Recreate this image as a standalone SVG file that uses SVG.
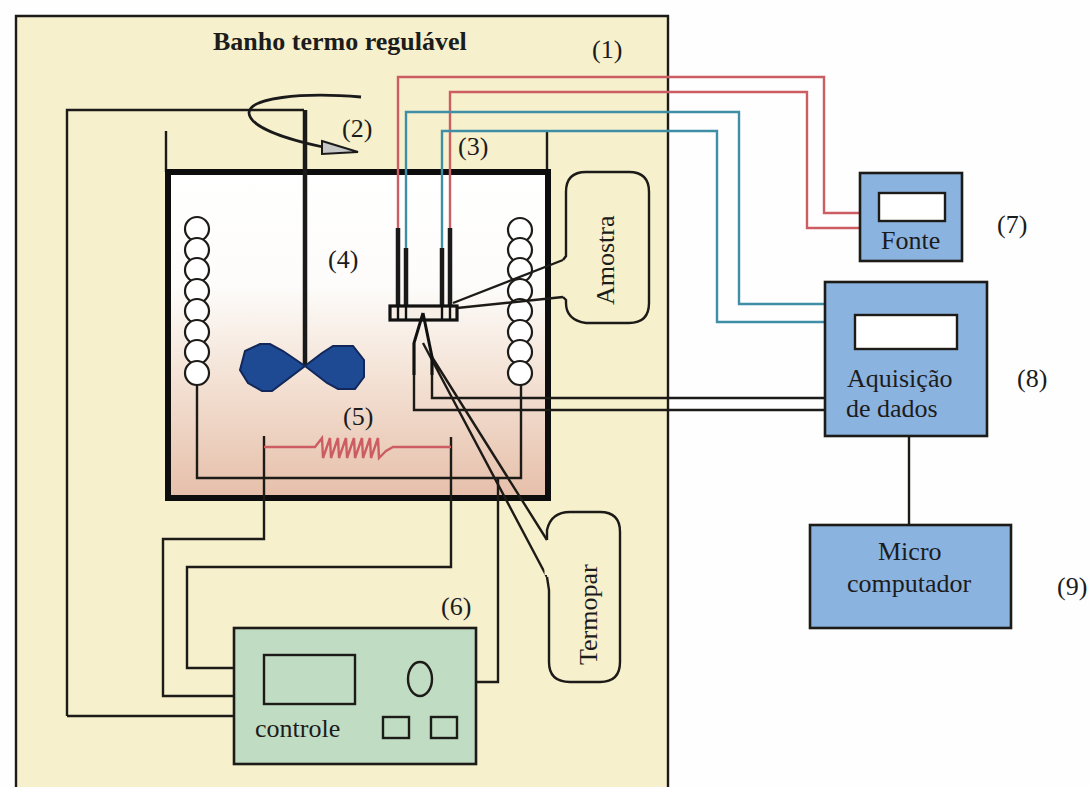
<svg xmlns="http://www.w3.org/2000/svg" width="1089" height="787" viewBox="0 0 1089 787">
<defs>
<linearGradient id="bath" x1="0" y1="0" x2="0" y2="1">
<stop offset="0" stop-color="#ffffff"/><stop offset="0.35" stop-color="#fdfcfa"/><stop offset="0.62" stop-color="#f4e3d6"/><stop offset="1" stop-color="#e6bfaa"/>
</linearGradient>
</defs>
<style>
text{font-family:"Liberation Serif","Times New Roman",serif;fill:#1c1c1c;font-size:26px}
.l{fill:none;stroke:#1d1b18;stroke-width:2.4}
.t{fill:none;stroke:#1a1a1a;stroke-width:4.5}
.b{fill:none;stroke:#0d0d0d;stroke-width:6}
.r{fill:none;stroke:#cc5d63;stroke-width:2.4}
.c{fill:none;stroke:#3f8ea6;stroke-width:2.4}
.w{fill:#fff;stroke:#1d1b18;stroke-width:2.2}
.o{fill:#f6f0cc;stroke:#1d1b18;stroke-width:2.4}
.box{fill:#8bb3e0;stroke:#1d1b18;stroke-width:2.6}
.p{fill:none;stroke:#1d1b18;stroke-width:2.4}
</style>
<rect width="1089" height="787" fill="#fefefe"/>
<g id="banho">
<rect x="16" y="16" width="652" height="771" fill="#f6f0cc"/>
<path class="l" d="M16 787V16H668V787"/>
<text x="213" y="50" font-weight="bold">Banho termo regulável</text>
<text x="592" y="58">(1)</text>
</g>
<g id="cuba">
<rect x="168" y="172" width="380" height="326" fill="url(#bath)"/>
<path class="l" d="M166 131V172M547 131V172"/>
<rect x="168" y="172" width="380" height="326" class="b"/>
<text x="458" y="155">(3)</text>
<text x="328" y="268">(4)</text>
<text x="343" y="425">(5)</text>
</g>
<g id="serpentina">
<circle class="w" cx="197" cy="229" r="12"/><circle class="w" cx="197" cy="250" r="12"/><circle class="w" cx="197" cy="270" r="12"/><circle class="w" cx="197" cy="291" r="12"/><circle class="w" cx="197" cy="311" r="12"/><circle class="w" cx="197" cy="332" r="12"/><circle class="w" cx="197" cy="352" r="12"/><circle class="w" cx="197" cy="373" r="12"/>
<circle class="w" cx="520" cy="230" r="12"/><circle class="w" cx="520" cy="250" r="12"/><circle class="w" cx="520" cy="270" r="12"/><circle class="w" cx="520" cy="291" r="12"/><circle class="w" cx="520" cy="311" r="12"/><circle class="w" cx="520" cy="332" r="12"/><circle class="w" cx="520" cy="352" r="12"/><circle class="w" cx="520" cy="373" r="12"/>
</g>
<g id="connectors">
<path class="r" d="M398 228V77H824V213H860"/>
<path class="r" d="M450 228V92H807V228H860"/>
<path class="c" d="M406 248V112H739V304H825"/>
<path class="c" d="M442 248V131H717V322H825"/>
<path class="l" d="M432 357V398H825M414 343V410H825"/>
<path class="l" d="M67 716V110H304M67 716H234"/>
<path class="l" d="M197 385V478H521V385"/>
<path class="l" d="M264 436V539H163V696H234"/>
<path class="l" d="M451 437V567H187V668H234"/>
<path class="l" d="M498 478V682H476"/>
<path class="l" d="M909 436V525"/>
<path class="l" d="M423 343L547 577M432 357L547 540M453 303L563 260M428 311L563 297"/>
</g>
<g id="agitador">
<path d="M305 110V366" class="t"/>
<path d="M361 97C300 92 249 98 249 113C250 128 290 140 323 147" fill="none" stroke="#1a1a1a" stroke-width="2.8"/>
<path d="M322 141L358 152L322 154Z" fill="#c5c8c6" stroke="#1a1a1a" stroke-width="2"/>
<text x="342" y="137">(2)</text>
<path d="M305 366L283 351L270 344H260L245 351L240 370L248 383L262 391H272ZL327 383L338 389H355L364 377V360L353 346H333L322 353Z" fill="#1e4a94" stroke="#12275a" stroke-width="2"/>
</g>
<g id="resistencia">
<path class="r" d="M264 447H315L322 438L323 458L330 438L331 458L338 438L339 458L346 438L347 458L354 438L355 458L362 438L363 458L370 438L371 458L378 438L379 458L386 451L393 447H451" stroke-width="3.4"/>
</g>
<g id="sensor">
<path d="M398 228V305M406 248V305M442 248V305M450 228V305" class="t"/>
<rect x="390" y="306" width="67" height="14" fill="#f7efe6" stroke="#111" stroke-width="3.2"/>
<path d="M398 306V320M406 306V320M442 306V320M450 306V320" stroke="#111" stroke-width="2.4"/>
<path d="M423 313L414 343V375M423 313L432 357V375" fill="none" stroke="#111" stroke-width="3"/>
</g>
<g id="amostra">
<path class="o" d="M563 260L566 256V192Q566 172 586 172H629Q649 172 649 192V303Q649 323 629 323H586Q566 320 566 303V300L563 297"/>
<path d="M563 262V295" stroke="#f6f0cc" stroke-width="4"/>
<text transform="translate(614 305) rotate(-90)">Amostra</text>
</g>
<g id="termopar">
<path class="o" d="M547 540V530Q551 512 570 512H600Q620 512 620 532V662Q620 682 600 682H570Q549 682 549 662V590L547 577"/>
<path d="M546 543V575" stroke="#f6f0cc" stroke-width="3"/>
<text transform="translate(597 665) rotate(-90)">Termopar</text>
</g>
<g id="controle">
<rect x="234" y="628" width="242" height="136" fill="#c0dcc3" stroke="#1d1b18" stroke-width="2.6"/>
<rect x="264" y="655" width="91" height="49" class="p"/>
<ellipse cx="420" cy="679" rx="12" ry="17" class="p"/>
<rect x="383" y="717" width="26" height="21" class="p"/>
<rect x="431" y="717" width="26" height="21" class="p"/>
<text x="255" y="737">controle</text>
<text x="441" y="615">(6)</text>
</g>
<g id="fonte">
<rect x="860" y="173" width="102" height="88" class="box"/>
<rect x="879" y="193" width="66" height="28" fill="#fff" stroke="#1d1b18" stroke-width="2.4"/>
<text x="881" y="249">Fonte</text>
<text x="997" y="233">(7)</text>
</g>
<g id="aquisicao">
<rect x="825" y="282" width="162" height="154" class="box"/>
<rect x="855" y="315" width="102" height="34" fill="#fff" stroke="#1d1b18" stroke-width="2.4"/>
<text x="847" y="387" font-size="28.6">Aquisição</text>
<text x="846" y="417" font-size="26.6">de dados</text>
<text x="1017" y="387">(8)</text>
</g>
<g id="computador">
<rect x="810" y="525" width="201" height="103" class="box"/>
<text x="878" y="560" font-size="26.6">Micro</text>
<text x="847" y="592" font-size="26.6">computador</text>
<text x="1057" y="595">(9)</text>
</g>
</svg>
